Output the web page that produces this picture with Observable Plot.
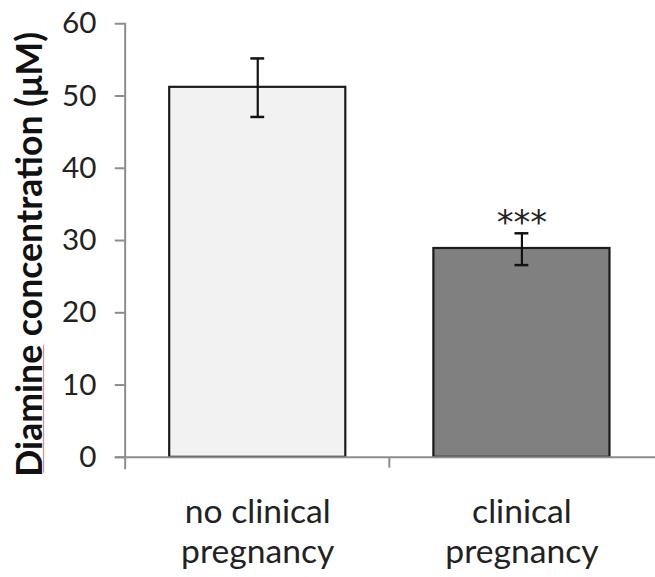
<!DOCTYPE html>
<html>
<head>
<meta charset="utf-8">
<script src="https://cdn.jsdelivr.net/npm/d3@7"></script>
<script src="https://cdn.jsdelivr.net/npm/@observablehq/plot@0.6"></script>
<style>
  html, body { margin: 0; padding: 0; background: #fff; overflow: hidden; }
</style>
</head>
<body>
<div id="chart"></div>
<script>
const categories = ["no clinical pregnancy", "clinical pregnancy"];
const tickLabels = ["no clinical\npregnancy", "clinical\npregnancy"];
const means = [51.2, 28.9];
const errLow = [47.1, 26.6];
const errHigh = [55.2, 31.0];
const fills = ["#f2f2f2", "#808080"];
const significance = ["", "***"];
const yTicks = [0, 10, 20, 30, 40, 50, 60];
const yTitle = "Diamine concentration (μM)";

const data = categories.map((c, i) => ({
  cat: c, mean: means[i], lo: errLow[i], hi: errHigh[i], fill: fills[i], sig: significance[i]
}));

const plot = Plot.plot({
  width: 662,
  height: 577,
  marginLeft: 126,
  marginRight: 0,
  marginTop: 23.5,
  marginBottom: 115.3,
  style: { fontFamily: "Lato, 'Open Sans', sans-serif", background: "#fff" },
  x: { domain: categories, paddingInner: 0.333, paddingOuter: 0.1667, axis: null },
  y: { domain: [0, 60], axis: null },
  marks: [
    Plot.barY(data, { x: "cat", y: "mean", fill: "fill", stroke: "#1a1a1a", strokeWidth: 2.2 }),
    Plot.ruleY([0], { stroke: "#8c8c8c", strokeWidth: 2, insetLeft: -10 }),
    Plot.frame({ anchor: "left", stroke: "#8c8c8c", strokeWidth: 2, insetBottom: -11 }),
    Plot.axisY({ ticks: yTicks, tickSize: 10, tickPadding: 19, stroke: "#8c8c8c", strokeWidth: 2,
                 fill: "#222", fontSize: 30, label: null }),
    Plot.axisX({ tickSize: 0, tickPadding: 38, fontSize: 34, fill: "#222", lineHeight: 1.18,
                 tickFormat: d => tickLabels[categories.indexOf(d)], label: null }),
    Plot.ruleX(data, { x: "cat", y1: "lo", y2: "hi", stroke: "#111", strokeWidth: 2.2 }),
    Plot.tickY(data, { x: "cat", y: "lo", stroke: "#111", strokeWidth: 2.5, insetLeft: 82, insetRight: 82 }),
    Plot.tickY(data, { x: "cat", y: "hi", stroke: "#111", strokeWidth: 2.5, insetLeft: 82, insetRight: 82 }),
    Plot.text(data, { x: "cat", y: "hi", text: "sig", lineAnchor: "bottom", dy: 1, fontSize: 34,
                      fontFamily: "'DejaVu Sans', sans-serif", fill: "#222" }),
    Plot.text([yTitle], { frameAnchor: "left", text: d => d, rotate: -90, textAnchor: "middle",
                          lineAnchor: "middle", dx: -95.5, dy: 14,
                          fontSize: 36, fontWeight: "bold", fill: "#111" })
  ]
});

// divider tick on the category axis, placed from the band scale
const xs = plot.scale("x");
const ys = plot.scale("y");
const b0 = xs.apply(categories[0]) + xs.bandwidth;
const b1 = xs.apply(categories[1]);
const mid = (b0 + b1) / 2;
d3.select(plot).append("line")
  .attr("x1", mid).attr("x2", mid)
  .attr("y1", ys.apply(0)).attr("y2", ys.apply(0) + 11)
  .attr("stroke", "#8c8c8c").attr("stroke-width", 2);

document.getElementById("chart").appendChild(plot);

// spell-check style thin red underline under the first word of the axis title
d3.select(plot).selectAll("text")
  .filter(function () { return this.textContent === yTitle; })
  .each(function () {
    const words = yTitle.split(" ");
    const first = words.shift();
    const t = d3.select(this);
    t.text(null);
    const w1 = t.append("tspan").text(first);
    t.append("tspan").text(" " + words.join(" "));
    const bb = w1.node().getBBox();
    const fs = 36;
    d3.select(this.parentNode).append("line")
      .attr("transform", this.getAttribute("transform"))
      .attr("x1", bb.x + 4).attr("x2", bb.x + bb.width)
      .attr("y1", 0.32 * fs + 1.5).attr("y2", 0.32 * fs + 1.5)
      .attr("stroke", "#e58a8a").attr("stroke-width", 1.2);
  });
</script>
</body>
</html>
